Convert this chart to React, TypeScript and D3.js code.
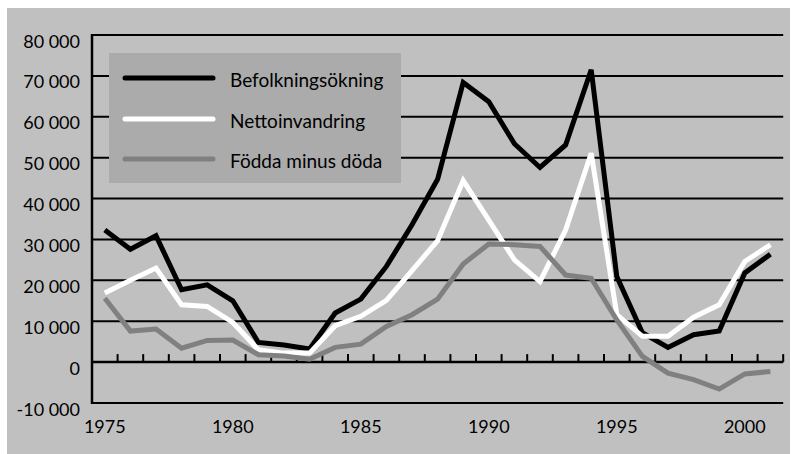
import React from "react";
import * as d3 from "d3";

const years: number[] = [
  1975, 1976, 1977, 1978, 1979, 1980, 1981, 1982, 1983, 1984, 1985, 1986, 1987, 1988,
  1989, 1990, 1991, 1992, 1993, 1994, 1995, 1996, 1997, 1998, 1999, 2000, 2001,
];

const befolkningsokning: number[] = [
  32300, 27600, 30900, 17700, 18900, 15000, 4800, 4200, 3200, 12000, 15400, 23400, 33600, 44700,
  68400, 63700, 53400, 47600, 53100, 71500, 20900, 7200, 3600, 6700, 7600, 21800, 26400,
];

const nettoinvandring: number[] = [
  16900, 20000, 23000, 14000, 13600, 9700, 3000, 2200, 2200, 8900, 11200, 15100, 22400, 29700,
  44400, 34700, 25000, 19700, 32300, 51100, 11600, 6300, 6300, 11000, 14000, 24600, 28700,
];

const foddaMinusDoda: number[] = [
  15600, 7600, 8100, 3400, 5300, 5400, 1800, 1500, 700, 3600, 4400, 8700, 11600, 15400,
  24000, 28900, 28700, 28300, 21300, 20500, 10300, 1400, -2700, -4300, -6600, -2900, -2300,
];

const yTicks: number[] = [-10000, 0, 10000, 20000, 30000, 40000, 50000, 60000, 70000, 80000];
const xLabelYears: number[] = [1975, 1980, 1985, 1990, 1995, 2000];

const seriesNames: string[] = ["Befolkningsökning", "Nettoinvandring", "Födda minus döda"];
const seriesColors: string[] = ["#000000", "#ffffff", "#808080"];

const W = 791;
const H = 454;
const FONT = "Lato, 'Open Sans', sans-serif";

export default function App() {
  const x = d3.scaleBand<number>().domain(years).range([92, 783.2]).paddingInner(0).paddingOuter(0);
  const y = d3.scaleLinear().domain([-10000, 80000]).range([403, 35]);
  const cx = (yr: number) => (x(yr) as number) + x.bandwidth() / 2;

  const allSeries = [befolkningsokning, nettoinvandring, foddaMinusDoda];
  const line = d3
    .line<number>()
    .x((_, i) => cx(years[i]))
    .y((v) => y(v));

  const fmt = (v: number) => {
    const s = Math.abs(v).toString().replace(/\B(?=(\d{3})+(?!\d))/g, " ");
    return (v < 0 ? "-" : "") + s;
  };

  const boundaries = years.map((yr) => x(yr) as number).concat([783.2]);

  const legendY = [78, 119, 159];

  return (
    <svg
      width={W}
      height={H}
      style={{ position: "absolute", left: 0, top: 0, display: "block" }}
      fontFamily={FONT}
    >
      <rect x={7} y={8} width={783} height={446} fill="#c0c0c0" />
      {/* grid lines */}
      {yTicks
        .filter((t) => t > 0)
        .map((t) => (
          <line key={t} x1={92} x2={783.2} y1={y(t)} y2={y(t)} stroke="#000" strokeWidth={2} />
        ))}
      {/* bottom line */}
      <line x1={92} x2={783.2} y1={y(-10000)} y2={y(-10000)} stroke="#000" strokeWidth={2} />
      {/* y axis */}
      <line x1={92} x2={92} y1={y(80000) - 1} y2={y(-10000) + 1} stroke="#000" strokeWidth={2.5} />
      {/* zero axis */}
      <line x1={92} x2={783.2} y1={y(0)} y2={y(0)} stroke="#000" strokeWidth={2.5} />
      {boundaries.map((b, i) => (
        <line key={i} x1={b} x2={b} y1={y(0)} y2={y(0) - 8} stroke="#000" strokeWidth={2} />
      ))}
      {/* y labels */}
      {yTicks.map((t) => (
        <text key={t} x={80} y={y(t) + 12.5} textAnchor="end" fontSize={18} fill="#000">
          {fmt(t)}
        </text>
      ))}
      {/* x labels */}
      {xLabelYears.map((yr) => (
        <text key={yr} x={cx(yr)} y={433} textAnchor="middle" fontSize={18} fill="#000">
          {yr}
        </text>
      ))}
      {/* legend */}
      <rect x={109} y={53} width={292} height={130} fill="#ababab" />
      {seriesNames.map((n, i) => (
        <g key={n}>
          <line
            x1={125}
            x2={213}
            y1={legendY[i]}
            y2={legendY[i]}
            stroke={seriesColors[i]}
            strokeWidth={5}
            strokeLinecap="round"
          />
          <text x={230} y={legendY[i] + 1} dominantBaseline="central" fontSize={19} fill="#000">
            {n}
          </text>
        </g>
      ))}
      {/* series */}
      {allSeries.map((s, i) => (
        <path
          key={i}
          d={line(s) || ""}
          fill="none"
          stroke={seriesColors[i]}
          strokeWidth={5}
          strokeLinejoin="miter"
          strokeMiterlimit={3}
        />
      ))}
    </svg>
  );
}
